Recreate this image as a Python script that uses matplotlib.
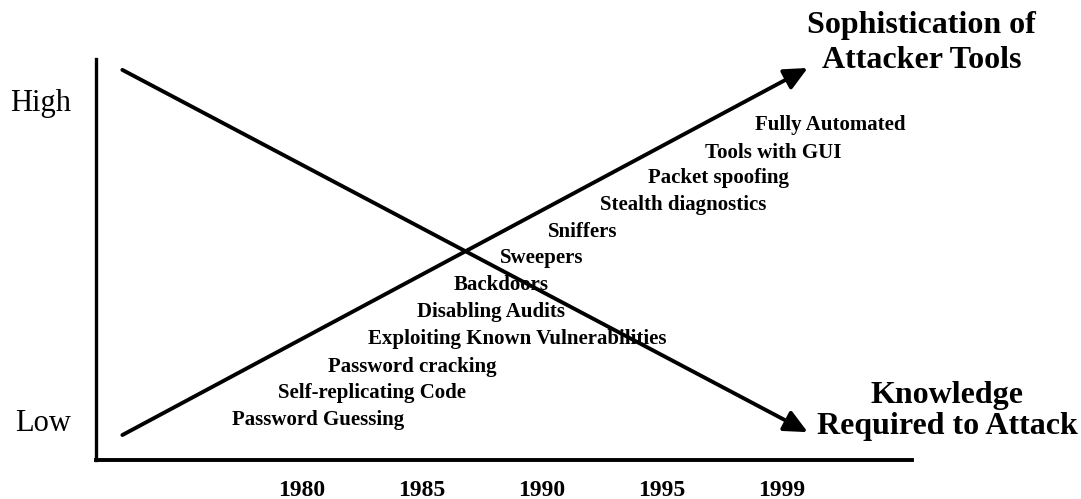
import numpy as np
import matplotlib
matplotlib.use("Agg")
import matplotlib.pyplot as plt

plt.rcParams['font.family'] = ['Liberation Serif', 'DejaVu Serif']

# данные
years = ["1980", "1985", "1990", "1995", "1999"]
levels = ["Low", "High"]

# начало и конец двух трендов (x в делениях оси, y: Low=0, High=1)
trend_x = [-1.5, 4.22]
knowledge = [1.094, -0.038]
sophistication = [-0.047, 1.10]

tools = ["Password Guessing", "Self-replicating Code", "Password cracking",
         "Exploiting Known Vulnerabilities", "Disabling Audits", "Backdoors",
         "Sweepers", "Sniffers", "Stealth diagnostics", "Packet spoofing",
         "Tools with GUI", "Fully Automated"]
tools_x = [-0.585, -0.20, 0.217, 0.551, 0.960, 1.261, 1.653, 2.054, 2.489, 2.889, 3.365, 3.783]
tools_y = [0.0, 0.084, 0.166, 0.253, 0.338, 0.422, 0.506, 0.588, 0.672, 0.756, 0.834, 0.922]

# рисунок
fig = plt.figure(figsize=(10.81, 4.99), dpi=100)
ax = fig.add_axes([96 / 1081, 39 / 499, 816 / 1081, 401 / 499])
ax.set_xlim(-1.72, 5.09)
ax.set_ylim(-0.125, 1.128)
for s in ["top", "right"]:
    ax.spines[s].set_visible(False)
ax.spines["left"].set_linewidth(2.4)
ax.spines["bottom"].set_linewidth(2.8)

ax.set_xticks(range(len(years)))
ax.set_xticklabels(years, fontsize=17, fontweight="bold")
ax.set_yticks(range(len(levels)))
ax.set_yticklabels(levels, fontsize=22)
ax.tick_params(axis="x", length=0, pad=14.5)
ax.tick_params(axis="y", length=0, pad=18)

# стрелки
arrow = dict(arrowstyle="-|>,head_length=0.7,head_width=0.33", lw=2.8,
             color="black", mutation_scale=20, shrinkA=0, shrinkB=0)
ax.annotate("", xy=(trend_x[1], knowledge[1]), xytext=(trend_x[0], knowledge[0]),
            arrowprops=arrow, annotation_clip=False)
ax.annotate("", xy=(trend_x[1], sophistication[1]), xytext=(trend_x[0], sophistication[0]),
            arrowprops=arrow, annotation_clip=False)

# подписи инструментов
for name, x, y in zip(tools, tools_x, tools_y):
    ax.text(x, y, name, fontsize=15, fontweight="bold", ha="left", va="center")

ax.text(5.17, 1.178, "Sophistication of\nAttacker Tools", fontsize=23,
        fontweight="bold", ha="center", va="center", multialignment="center",
        linespacing=1.3, clip_on=False)
ax.text(5.386, 0.028, "Knowledge\nRequired to Attack", fontsize=23,
        fontweight="bold", ha="center", va="center", multialignment="center",
        linespacing=1.12, clip_on=False)

fig.savefig("out.png", dpi=100)
